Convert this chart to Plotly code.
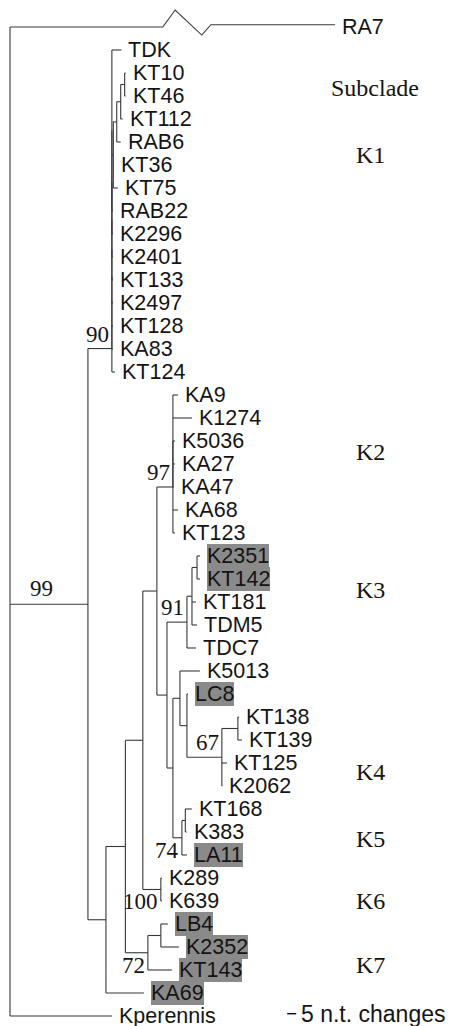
import plotly.graph_objects as go

# ---------------- data: tree topology (parent) and branch lengths (n.t. changes) ----------------
node_names = [
    "root", "RA7", "N99", "K1", "L6", "L5", "L4", "L3", "L2", "L1", "C1",
    "TDK", "D1", "E1", "F1", "G1", "KT10", "KT46", "KT112", "RAB6", "KT36", "KT75", "RAB22",
    "K2296", "K2401", "KT133", "K2497", "KT128", "KA83", "KT124",
    "NG", "NF", "NE", "NA", "K2", "X2", "KA9", "K1274", "K5036", "KA27", "KA47", "KA68", "KT123",
    "NB", "N91", "A3", "B3", "K2351", "KT142", "KT181", "TDM5", "TDC7",
    "NC", "ND", "K5013", "NLC", "LC8", "K4", "NKT", "KT138", "KT139", "KT125", "K2062",
    "K5", "N168", "KT168", "K383", "LA11",
    "K6", "K289", "K639",
    "K7", "NLB", "LB4", "K2352", "KT143",
    "KA69", "Kperennis",
]
node_parents = [
    None, "root", "root", "N99", "K1", "L6", "L5", "L4", "L3", "L2", "L1",
    "C1", "C1", "D1", "E1", "F1", "G1", "G1", "F1", "E1", "D1", "D1", "C1",
    "L1", "L2", "L3", "L4", "L5", "L6", "K1",
    "N99", "NG", "NF", "NE", "NA", "K2", "X2", "X2", "X2", "X2", "X2", "K2", "K2",
    "NA", "NB", "N91", "A3", "B3", "B3", "A3", "A3", "N91",
    "NB", "NC", "ND", "ND", "NLC", "NLC", "K4", "NKT", "NKT", "K4", "K4",
    "NC", "K5", "N168", "N168", "K5",
    "NE", "K6", "K6",
    "NF", "K7", "NLB", "NLB", "K7",
    "NG", "root",
]
branch_lengths = [
    0.0, 180.6, 43.3, 13.3, 0.0, 0.0, 0.0, 0.0, 0.0, 0.0, 0.0,
    5.3, 0.8, 1.9, 2.2, 2.2, 0.6, 0.6, 1.1, 2.2, 0.3, 2.5, 0.6,
    0.6, 0.6, 0.6, 0.6, 0.6, 0.6, 1.7,
    10.0, 10.8, 9.7, 7.8, 8.9, 0.0, 2.8, 10.6, 1.1, 1.1, 0.6, 2.8, 1.1,
    5.6, 11.1, 2.8, 2.8, 1.7, 1.7, 2.2, 2.8, 5.0,
    3.3, 3.9, 11.1, 3.9, 0.6, 19.4, 8.9, 0.6, 2.2, 2.8, 0.3,
    5.0, 1.9, 3.6, 0.8, 2.8,
    10.0, 0.6, 0.6,
    12.5, 7.2, 3.9, 10.0, 13.3,
    21.1, 56.7,
]
# row at which the root connector to the "99" node is drawn
node_row_override = {"N99": 24.1}

highlighted = ["K2351", "KT142", "LC8", "LA11", "LB4", "K2352", "KT143", "KA69"]
broken_branch = "RA7"

bootstrap_nodes = ["N99", "K1", "K2", "N91", "K4", "K5", "K6", "K7"]
bootstrap_values = ["99", "90", "97", "91", "67", "74", "100", "72"]
bootstrap_place = ["branch", "above", "above", "above", "above", "below", "below", "below"]

subclade_labels = ["Subclade", "K1", "K2", "K3", "K4", "K5", "K6", "K7"]
subclade_rows = [1.65, 4.57, 17.5, 23.5, 31.4, 34.3, 37.0, 39.8]
subclade_cols = [203.0, 200.0, 200.0, 200.0, 200.0, 200.0, 200.0, 200.0]

scale_bar_length = 5
scale_bar_text = "5 n.t. changes"

# ---------------- layout of the tree ----------------
children = {n: [] for n in node_names}
parent_of = dict(zip(node_names, node_parents))
blen = dict(zip(node_names, branch_lengths))
for n, p in zip(node_names, node_parents):
    if p is not None:
        children[p].append(n)

depth = {}
for n in node_names:
    p = parent_of[n]
    depth[n] = 0.0 if p is None else depth[p] + blen[n]

row = {}
counter = [-1]


def place(n):
    if not children[n]:
        row[n] = counter[0]
        counter[0] += 1
    else:
        for c in children[n]:
            place(c)
        row[n] = (row[children[n][0]] + row[children[n][-1]]) / 2.0


place("root")
row.update(node_row_override)

xs, ys = [], []
for n in node_names:
    if children[n]:
        top = min(row[children[n][0]], row[n])
        bot = max(row[children[n][-1]], row[n])
        xs += [depth[n], depth[n], None]
        ys += [top, bot, None]
    p = parent_of[n]
    if p is None:
        continue
    if n == broken_branch:
        L = blen[n]
        x0 = depth[p]
        pts = [(x0, row[n]), (x0 + 0.47 * L, row[n]), (x0 + 0.508 * L, row[n] - 0.74),
               (x0 + 0.59 * L, row[n] + 0.35), (x0 + 0.618 * L, row[n] - 0.1),
               (depth[n], row[n] - 0.1)]
        for a, b in pts:
            xs.append(a)
            ys.append(b)
        xs.append(None)
        ys.append(None)
    else:
        xs += [depth[p], depth[n], None]
        ys += [row[n], row[n], None]

LINE = "#383838"
TEXT = "#141414"
SANS = "Liberation Sans, Arial, sans-serif"
SERIF = "Liberation Serif, Times New Roman, serif"

fig = go.Figure()
fig.add_trace(go.Scatter(x=xs, y=ys, mode="lines", line=dict(color=LINE, width=1.1),
                         hoverinfo="skip", showlegend=False))

ann = []
for n in node_names:
    if children[n]:
        continue
    hl = n in highlighted
    ann.append(dict(x=depth[n], y=row[n], text=n, showarrow=False, xanchor="left",
                    yanchor="middle", xshift=7, font=dict(family=SANS, size=21.5, color=TEXT),
                    bgcolor="#8a8a8a" if hl else "rgba(0,0,0,0)", borderpad=0, borderwidth=0))

for nd, val, pl in zip(bootstrap_nodes, bootstrap_values, bootstrap_place):
    if pl == "branch":
        p = parent_of[nd]
        ann.append(dict(x=depth[p] + 0.4 * blen[nd], y=row[nd], text=val, showarrow=False,
                        xanchor="center", yanchor="bottom", yshift=1,
                        font=dict(family=SERIF, size=23, color=TEXT)))
    elif pl == "above":
        ann.append(dict(x=depth[nd], y=row[nd], text=val, showarrow=False,
                        xanchor="right", yanchor="bottom", xshift=-1, yshift=0,
                        font=dict(family=SERIF, size=23, color=TEXT)))
    else:
        ann.append(dict(x=depth[nd], y=row[nd], text=val, showarrow=False,
                        xanchor="right", yanchor="top", xshift=-1, yshift=2,
                        font=dict(family=SERIF, size=23, color=TEXT)))

for lab, r, c in zip(subclade_labels, subclade_rows, subclade_cols):
    ann.append(dict(x=c, y=r, text=lab, showarrow=False, xanchor="center", yanchor="middle",
                    font=dict(family=SERIF, size=24, color=TEXT)))

sb_row = row["Kperennis"]
sb_x0 = 154.0
fig.add_trace(go.Scatter(x=[sb_x0, sb_x0 + scale_bar_length], y=[sb_row - 0.1, sb_row - 0.1],
                         mode="lines", line=dict(color=TEXT, width=1.5),
                         hoverinfo="skip", showlegend=False))
ann.append(dict(x=sb_x0 + scale_bar_length, y=sb_row - 0.1, text=scale_bar_text, showarrow=False,
                xanchor="left", yanchor="middle", xshift=3,
                font=dict(family=SANS, size=23, color=TEXT)))

# the page body has an 8px default margin: ranges chosen so that the drawing lands where the
# reference has it inside the 457x1026 window
fig.update_layout(
    width=457, height=1026,
    margin=dict(l=0, r=0, t=0, b=0),
    paper_bgcolor="white", plot_bgcolor="white",
    xaxis=dict(visible=False, range=[-1.111, 252.78], fixedrange=True),
    yaxis=dict(visible=False, range=[42.783, -1.826], fixedrange=True),
    annotations=ann,
    showlegend=False,
)

fig.write_html("out.html")
